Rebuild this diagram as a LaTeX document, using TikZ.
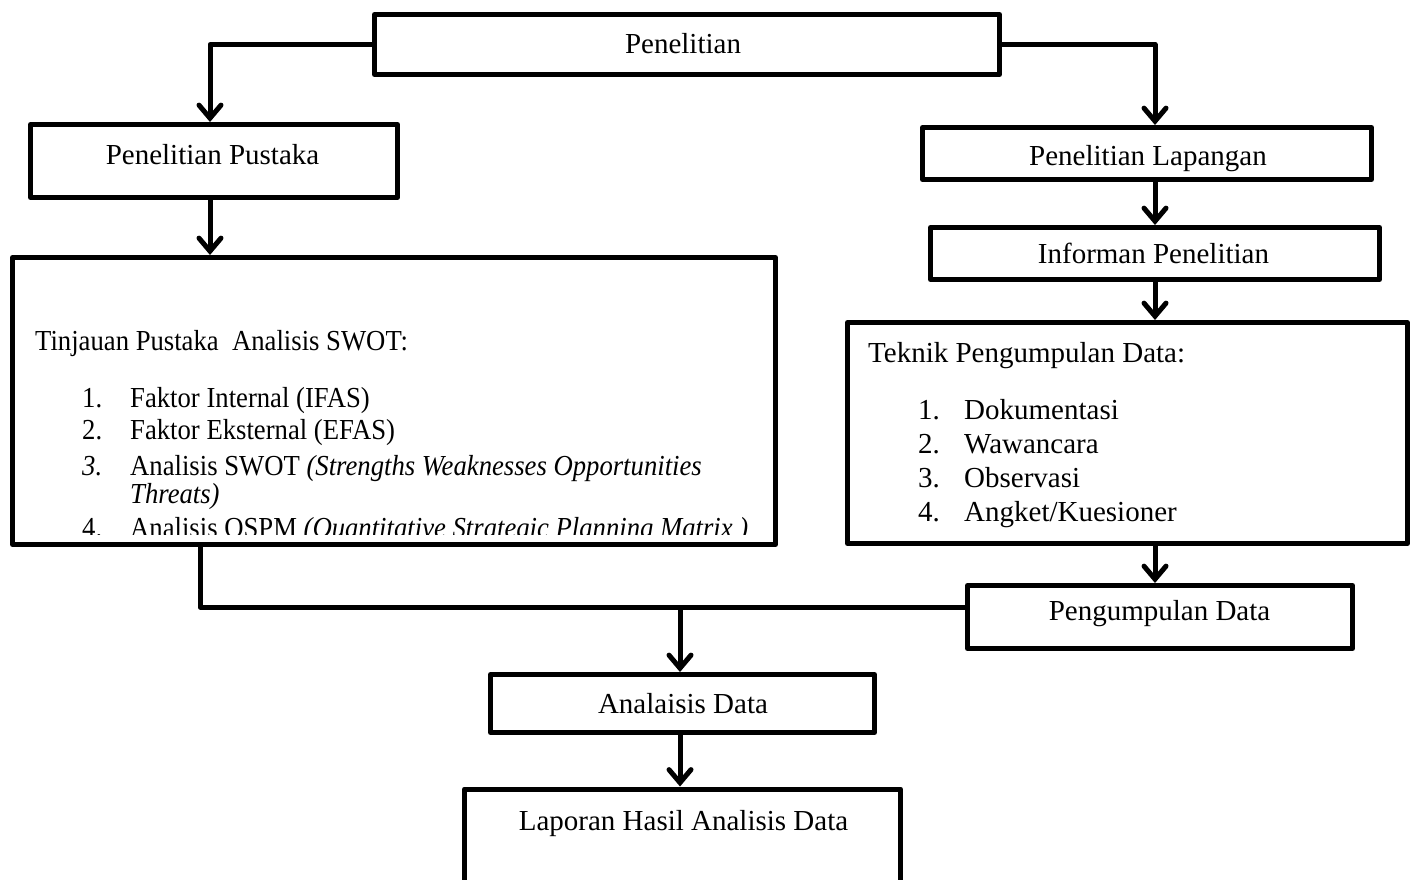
\documentclass[tikz,border=0pt]{standalone}
\usepackage{fontspec}
\setmainfont{Liberation Serif}
\newfontfamily\condfont[FakeStretch=0.92]{Liberation Serif}
\usetikzlibrary{arrows.meta,calc}
\begin{document}
\begin{tikzpicture}[x=1pt,y=-1pt,
  box/.style={draw, line width=5pt, line join=round, inner sep=0pt},
  txt/.style={anchor=base, inner sep=0pt, font=\fontsize{29}{34}\selectfont},
  ltxt/.style={anchor=base west, inner sep=0pt, font=\condfont\fontsize{29}{34}\selectfont},
  rtxt/.style={anchor=base west, inner sep=0pt, font=\fontsize{29}{34}\selectfont},
  conn/.style={line width=5pt, line join=round},
  arr/.style={conn, -{Straight Barb[length=13pt,width=22pt,line cap=round]}}]
\clip (0,0) rectangle (1415,879);
\fill[white] (0,0) rectangle (1415,879);

% boxes
\node[box, minimum width=625pt, minimum height=60pt] (pen) at (687,44.5) {};
\node[box, minimum width=367pt, minimum height=73pt] (pus) at (214,161) {};
\node[box, minimum width=449pt, minimum height=52pt] (lap) at (1147,153.5) {};
\node[box, minimum width=449pt, minimum height=52pt] (inf) at (1155,253.5) {};
\node[box, minimum width=763pt, minimum height=287pt] (tin) at (394,401) {};
\node[box, minimum width=560pt, minimum height=221pt] (tek) at (1127.5,433) {};
\node[box, minimum width=385pt, minimum height=63pt] (pd) at (1160,617) {};
\node[box, minimum width=384pt, minimum height=58pt] (ad) at (682.5,703.5) {};
\node[box, minimum width=436pt, minimum height=120pt] (lapor) at (682.5,849) {};

% box texts
\node[txt] (pent) at (683,53.5) {Penelitian};
\node[txt] (pust) at (212.5,164.5) {Penelitian Pustaka};
\node[txt] (lapt) at (1148,165.5) {Penelitian Lapangan};
\node[txt] (inft) at (1153.5,263.5) {Informan Penelitian};
\node[txt] (pdt) at (1159.5,620.5) {Pengumpulan Data};
\node[txt] (adt) at (683,713.5) {Analaisis Data};
\node[txt] (laport) at (683.5,830.5) {Laporan Hasil Analisis Data};

% left big box text (clipped at bottom)
\begin{scope}
\clip (13,258) rectangle (775,534);
\node[ltxt] (tinh) at (35,350) {Tinjauan Pustaka\ \ Analisis SWOT:};
\node[ltxt] (n1) at (82,407) {1.};
\node[ltxt] (i1) at (130,407) {Faktor Internal (IFAS)};
\node[ltxt] (n2) at (82,439) {2.};
\node[ltxt] (i2) at (130,439) {Faktor Eksternal (EFAS)};
\node[ltxt] (n3) at (82,475) {\itshape 3.};
\node[ltxt] (i3) at (130,475) {Analisis SWOT \textit{(Strengths Weaknesses Opportunities}};
\node[ltxt] (i3b) at (130,503) {\itshape Threats)};
\node[ltxt] (n4) at (82,537) {4.};
\node[ltxt] (i4) at (130,537) {Analisis QSPM \textit{(Quantitative Strategic Planning Matrix )}};
\end{scope}

% right big box text
\node[rtxt] (tekh) at (868,362) {Teknik Pengumpulan Data:};
\node[rtxt] (m1) at (918,419) {1.};
\node[rtxt] (k1) at (964,419) {Dokumentasi};
\node[rtxt] (m2) at (918,453) {2.};
\node[rtxt] (k2) at (964,453) {Wawancara};
\node[rtxt] (m3) at (918,487) {3.};
\node[rtxt] (k3) at (964,487) {Observasi};
\node[rtxt] (m4) at (918,521) {4.};
\node[rtxt] (k4) at (964,521) {Angket/Kuesioner};

% connectors
\coordinate (rc) at (1155,0);
\coordinate (lc) at (210,0);
\coordinate (mc) at (680,0);
\coordinate (j) at (200,607);
\draw[arr] (pen.west) -| (lc |- pus.north);
\draw[arr] (pen.east) -| (rc |- lap.north);
\draw[arr] (rc |- lap.south) -- (rc |- inf.north);
\draw[arr] (rc |- inf.south) -- (rc |- tek.north);
\draw[arr] (rc |- tek.south) -- (rc |- pd.north);
\draw[arr] (lc |- pus.south) -- (lc |- tin.north);
\draw[conn] (j |- tin.south) -- (j) -- (j -| pd.west);
\draw[arr] (mc |- j) -- (mc |- ad.north);
\draw[arr] (mc |- ad.south) -- (mc |- lapor.north);
\end{tikzpicture}
\end{document}
